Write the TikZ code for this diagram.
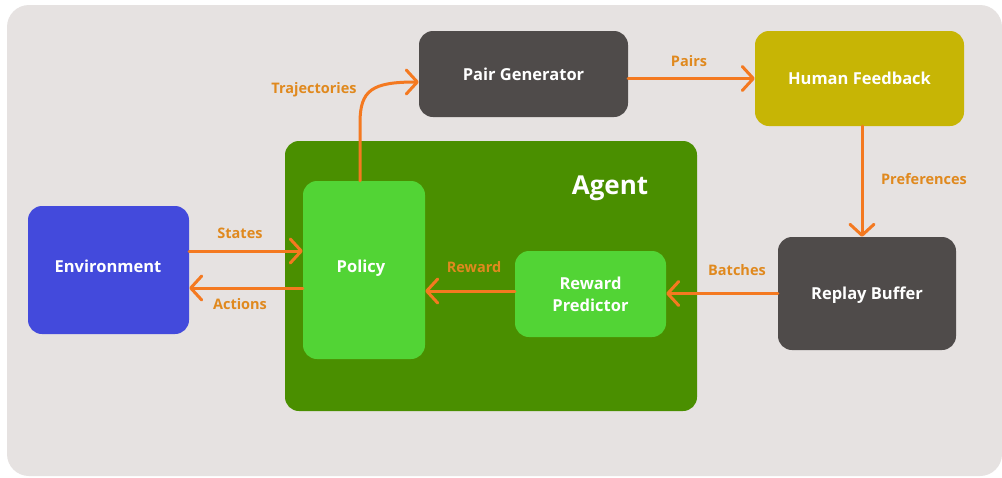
\documentclass[tikz,border=0pt]{standalone}
\usepackage{fontspec}
\setmainfont{Open Sans}
\usetikzlibrary{arrows.meta}
\definecolor{bgc}{HTML}{E6E2E1}
\definecolor{darkbox}{HTML}{4F4B4A}
\definecolor{hfc}{HTML}{C7B505}
\definecolor{agentc}{HTML}{4A8F00}
\definecolor{lgreen}{HTML}{52D435}
\definecolor{envc}{HTML}{434ADC}
\definecolor{arrc}{HTML}{F47920}
\definecolor{labc}{HTML}{E0891E}
\tikzset{
  boxfont/.style={font=\bfseries\fontsize{16.5}{22}\selectfont},
  box/.style={rectangle, rounded corners=14pt, inner sep=0pt, text=white, boxfont, align=center},
  arr/.style={draw=arrc, line width=3pt, line cap=round, -{Straight Barb[length=11pt,width=24pt,line width=3pt,round]}},
  lab/.style={text=labc, font=\bfseries\fontsize{14.5}{17}\selectfont, inner sep=0pt}
}
\begin{document}
\begin{tikzpicture}[x=1pt,y=-1pt]
\useasboundingbox (0,0) rectangle (1002,477);
\fill[white] (0,0) rectangle (1002,477);
\fill[bgc, rounded corners=22pt] (7,5) rectangle (1002,476);
% nodes
\node[box, fill=darkbox, minimum width=209pt, minimum height=86pt] (pg) at (523.5,74) {Pair Generator};
\node[box, fill=hfc, minimum width=209pt, minimum height=95pt] (hf) at (859.5,78.5) {Human Feedback};
\node[box, fill=agentc, minimum width=412pt, minimum height=270pt] (agent) at (491,276) {};
\node[text=white, font=\bfseries\fontsize{26}{30}\selectfont, inner sep=0pt] (agentlabel) at (610,188) {Agent};
\node[box, fill=lgreen, minimum width=122pt, minimum height=178pt] (policy) at (364,270) {};
\node[text=white, boxfont, inner sep=0pt] (policylabel) at (361,268) {Policy};
\node[box, fill=envc, minimum width=161pt, minimum height=128pt] (env) at (108.5,270) {};
\node[text=white, boxfont, inner sep=0pt] (envlabel) at (108,266) {Environment};
\node[box, fill=lgreen, minimum width=151pt, minimum height=86pt] (rp) at (590.5,294) {Reward\\Predictor};
\node[box, fill=darkbox, minimum width=178pt, minimum height=113pt, text depth=0pt] (rb) at (867,293.5) {Replay Buffer};
% coordinates
\coordinate (st1) at ([yshift=19pt]env.east);
\coordinate (st2) at ([yshift=19pt]policy.west);
\coordinate (ac1) at ([yshift=-18pt]policy.west);
\coordinate (ac2) at ([yshift=-18pt]env.east);
\coordinate (rw1) at ([yshift=3pt]rp.west);
\coordinate (tr2) at ([yshift=-8pt]pg.west);
% connectors
\draw[arr] (st1) -- (st2);
\draw[arr] (ac1) -- (ac2);
\draw[arr] (rw1) -- (rw1 -| policy.east);
\draw[arr] (rb.west) -- (rb.west -| rp.east);
\draw[arr] (hf.south -| 862,0) -- (rb.north -| 862,0);
\draw[arr] (pg.east |- hf.west) -- (hf.west);
\draw[arr] ([xshift=-4pt]policy.north) -- ++(0,-58) .. controls (360,90) and (372,82) .. (tr2);
% labels
\node[lab] (lstates) at (240,233) {States};
\node[lab] (lactions) at (240,304) {Actions};
\node[lab] (lreward) at (474,267) {Reward};
\node[lab] (lbatches) at (737,270) {Batches};
\node[lab] (lpref) at (924,179) {Preferences};
\node[lab] (lpairs) at (689,61) {Pairs};
\node[lab] (ltraj) at (314,90) {Trajectories};
\end{tikzpicture}
\end{document}
